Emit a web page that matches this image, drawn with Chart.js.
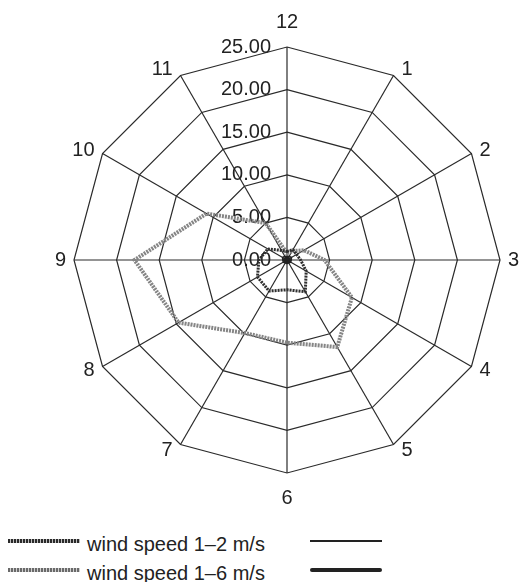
<!DOCTYPE html>
<html>
<head>
<meta charset="utf-8">
<script src="https://cdn.jsdelivr.net/npm/chart.js@4/dist/chart.umd.min.js"></script>
<style>
  html, body { margin: 0; padding: 0; background: #fff; overflow: hidden; width: 521px; height: 582px; }
  #wrap { position: absolute; left: 0; top: 0; width: 575px; height: 520px; }
  .lg { position: absolute; font: 20px "Liberation Sans", Arial, sans-serif; color: #222; line-height: 24px; white-space: nowrap; }
  .sw { position: absolute; }
</style>
</head>
<body>
<div id="wrap"><canvas id="c" width="575" height="520"></canvas></div>

<div class="sw" style="left:8px;top:539px;width:72px;height:4px;background:repeating-linear-gradient(90deg,#2a2a2a 0 2px,#bdbdbd 2px 3px);"></div>
<div class="lg" style="left:87px;top:532px;">wind speed 1–2 m/s</div>
<div class="sw" style="left:8px;top:568px;width:72px;height:4px;background:repeating-linear-gradient(90deg,#6a6a6a 0 2px,#d0d0d0 2px 3px);"></div>
<div class="lg" style="left:87px;top:561px;">wind speed 1–6 m/s</div>
<div class="sw" style="left:310px;top:540px;width:72px;height:2px;background:#222;"></div>
<div class="sw" style="left:310px;top:568px;width:72px;height:4px;background:#222;border-radius:2px;"></div>

<script>
// Directions (clock positions), clockwise from top
const directions = ['12', '1', '2', '3', '4', '5', '6', '7', '8', '9', '10', '11'];
// Series values
const speed1to2 = [1.0, 1.4, 1.3, 1.6, 2.6, 4.3, 3.5, 4.2, 4.0, 3.3, 2.6, 1.3];
const speed1to6 = [0.8, 1.2, 2.3, 4.4, 8.8, 11.8, 9.7, 9.9, 14.7, 17.9, 10.9, 5.0];
const solidThin = [0.4, 0.5, 0.6, 0.5, 0.5, 0.4, 0.4, 0.4, 0.5, 0.5, 0.6, 0.5];
const solidThick = [0.2, 0.2, 0.3, 0.3, 0.2, 0.2, 0.2, 0.2, 0.2, 0.3, 0.3, 0.2];
// Radial tick labels
const tickLabels = ['0.00', '5.00', '10.00', '15.00', '20.00', '25.00'];

const FONT = '"Liberation Sans", Arial, sans-serif';

const labelPlugin = {
  id: 'labelPlugin',
  beforeDatasetsDraw(chart) {
    const s = chart.scales.r;
    const ctx = chart.ctx;
    ctx.save();
    ctx.font = '20px ' + FONT;
    ctx.fillStyle = '#222';
    ctx.textAlign = 'right';
    ctx.textBaseline = 'middle';
    s.ticks.forEach((t, i) => {
      const d = s.getDistanceFromCenterForValue(t.value);
      ctx.fillText(tickLabels[i] ?? String(t.value), s.xCenter - 16, s.yCenter - d);
    });
    ctx.restore();
  },
  afterDraw(chart) {
    const s = chart.scales.r;
    const ctx = chart.ctx;
    ctx.save();
    ctx.font = '20px ' + FONT;
    ctx.fillStyle = '#222';
    ctx.textBaseline = 'middle';
    chart.data.labels.forEach((lab, i) => {
      const p = s.getPointPosition(i, s.drawingArea);
      const ang = s.getIndexAngle(i);
      const sn = Math.sin(ang), cs = Math.cos(ang);
      let x, y;
      if (Math.abs(sn) < 0.01) {
        ctx.textAlign = 'center';
        x = p.x;
        y = p.y - Math.sign(cs) * 25;
      } else {
        ctx.textAlign = sn > 0 ? 'left' : 'right';
        x = p.x + Math.sign(sn) * 8;
        y = p.y - cs * 7;
      }
      ctx.fillText(lab, x, y);
    });
    ctx.restore();
  }
};

new Chart(document.getElementById('c'), {
  type: 'radar',
  data: {
    labels: directions,
    datasets: [
      { label: 'wind speed 1–2 m/s', data: speed1to2, borderColor: '#2e2e2e', borderWidth: 3, borderDash: [2, 1], fill: false, pointRadius: 0, tension: 0 },
      { label: 'wind speed 1–6 m/s', data: speed1to6, borderColor: '#858585', borderWidth: 4, borderDash: [2, 1], fill: false, pointRadius: 0, tension: 0 },
      { label: '', data: solidThin, borderColor: '#222', borderWidth: 1.5, fill: false, pointRadius: 0 },
      { label: '', data: solidThick, borderColor: '#222', borderWidth: 3, fill: false, pointRadius: 0 }
    ]
  },
  options: {
    responsive: false,
    animation: false,
    layout: { padding: { top: 47, left: 0, right: 0, bottom: 47 } },
    plugins: { legend: { display: false }, tooltip: { enabled: false } },
    scales: {
      r: {
        min: 0,
        max: 25,
        ticks: { stepSize: 5, display: false },
        grid: { color: '#2a2a2a', lineWidth: 1.2 },
        angleLines: { color: '#2a2a2a', lineWidth: 1.2 },
        pointLabels: { display: false }
      }
    }
  },
  plugins: [labelPlugin]
});
</script>
</body>
</html>
